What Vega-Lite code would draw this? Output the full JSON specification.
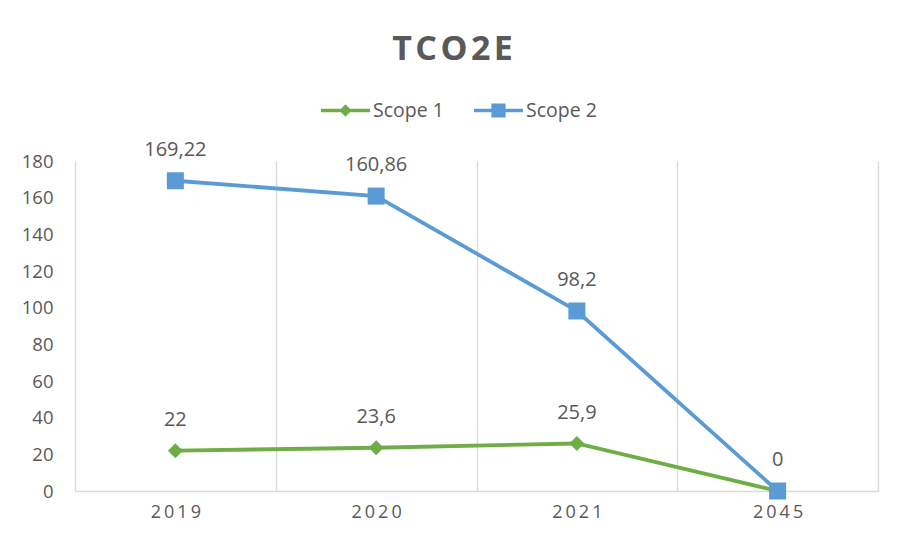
{
  "$schema": "https://vega.github.io/schema/vega-lite/v6.json",
  "width": 803,
  "height": 330,
  "autosize": {"type": "none"},
  "padding": {"left": 75, "top": 161, "right": 26, "bottom": 55},
  "background": "white",
  "config": {
    "view": {"stroke": null},
    "font": "Open Sans",
    "locale": {"number": {"decimal": ",", "thousands": ".", "grouping": [3], "currency": ["", " €"]}}
  },
  "title": {
    "text": "T\u200aC\u200aO\u200a2\u200aE",
    "font": "Open Sans",
    "fontSize": 34,
    "fontWeight": "bold",
    "color": "#595959",
    "anchor": "middle",
    "frame": "group",
    "dx": -24,
    "offset": 19
  },
  "data": {
    "values": [
      {"year": "2019", "series": "Scope 1", "value": 22},
      {"year": "2020", "series": "Scope 1", "value": 23.6},
      {"year": "2021", "series": "Scope 1", "value": 25.9},
      {"year": "2045", "series": "Scope 1", "value": 0},
      {"year": "2019", "series": "Scope 2", "value": 169.22},
      {"year": "2020", "series": "Scope 2", "value": 160.86},
      {"year": "2021", "series": "Scope 2", "value": 98.2},
      {"year": "2045", "series": "Scope 2", "value": 0}
    ]
  },
  "encoding": {
    "x": {
      "field": "year",
      "type": "nominal",
      "sort": null,
      "scale": {"paddingInner": 0, "paddingOuter": 0},
      "axis": {
        "title": null,
        "labelAngle": 0,
        "tickBand": "extent",
        "ticks": false,
        "grid": true,
        "gridColor": "#d9d9d9",
        "gridWidth": 1.3,
        "domain": true,
        "domainColor": "#d9d9d9",
        "domainWidth": 1.3,
        "labelFont": "Open Sans",
        "labelFontSize": 18,
        "labelColor": "#595959",
        "labelPadding": 12,
        "labelExpr": "join(split(datum.label, ''), '\u2009')"
      }
    },
    "y": {
      "field": "value",
      "type": "quantitative",
      "scale": {"domain": [0, 180], "nice": false, "zero": true},
      "axis": {
        "title": null,
        "values": [0, 20, 40, 60, 80, 100, 120, 140, 160, 180],
        "grid": false,
        "domain": false,
        "ticks": false,
        "labelFont": "Open Sans",
        "labelFontSize": 18.5,
        "labelColor": "#595959",
        "labelPadding": 22
      }
    },
    "color": {
      "field": "series",
      "type": "nominal",
      "scale": {"domain": ["Scope 1", "Scope 2"], "range": ["#70ad47", "#5b9bd5"]},
      "legend": {
        "title": null,
        "orient": "none",
        "direction": "horizontal",
        "legendX": 246,
        "legendY": -75,
        "labelFont": "Open Sans",
        "labelFontSize": 19.5,
        "labelColor": "#595959",
        "labelOffset": 3,
        "columnPadding": 30,
        "symbolSize": 2401,
        "encode": {
          "symbols": {
            "update": {
              "shape": {"signal": "datum.value === 'Scope 1' ? 'M-1,-0.075L-0.18,-0.075L0,-0.26L0.18,-0.075L1,-0.075L1,0.075L0.18,0.075L0,0.26L-0.18,0.075L-1,0.075Z' : 'M-1,-0.075L-0.29,-0.075L-0.29,-0.29L0.29,-0.29L0.29,-0.075L1,-0.075L1,0.075L0.29,0.075L0.29,0.29L-0.29,0.29L-0.29,0.075L-1,0.075Z'"},
              "fill": {"signal": "scale('color', datum.value)"},
              "stroke": {"value": null},
              "strokeWidth": {"value": 0},
              "size": {"value": 2401},
              "opacity": {"value": 1},
              "fillOpacity": {"value": 1}
            }
          }
        }
      }
    }
  },
  "layer": [
    {
      "mark": {"type": "line", "strokeWidth": 3.8}
    },
    {
      "transform": [{"filter": "datum.series === 'Scope 1'"}],
      "mark": {"type": "point", "filled": true, "opacity": 1, "shape": "diamond", "size": 225}
    },
    {
      "transform": [{"filter": "datum.series === 'Scope 2'"}],
      "mark": {"type": "point", "filled": true, "opacity": 1, "shape": "square", "size": 289}
    },
    {
      "transform": [{"filter": "!(datum.series === 'Scope 1' && datum.year === '2045')"}],
      "mark": {"type": "text", "dy": -31, "baseline": "middle", "align": "center", "font": "Open Sans", "fontSize": 20, "color": "#595959"},
      "encoding": {
        "text": {"field": "value", "type": "quantitative", "format": "~r"},
        "color": {"value": "#595959"}
      }
    }
  ]
}
